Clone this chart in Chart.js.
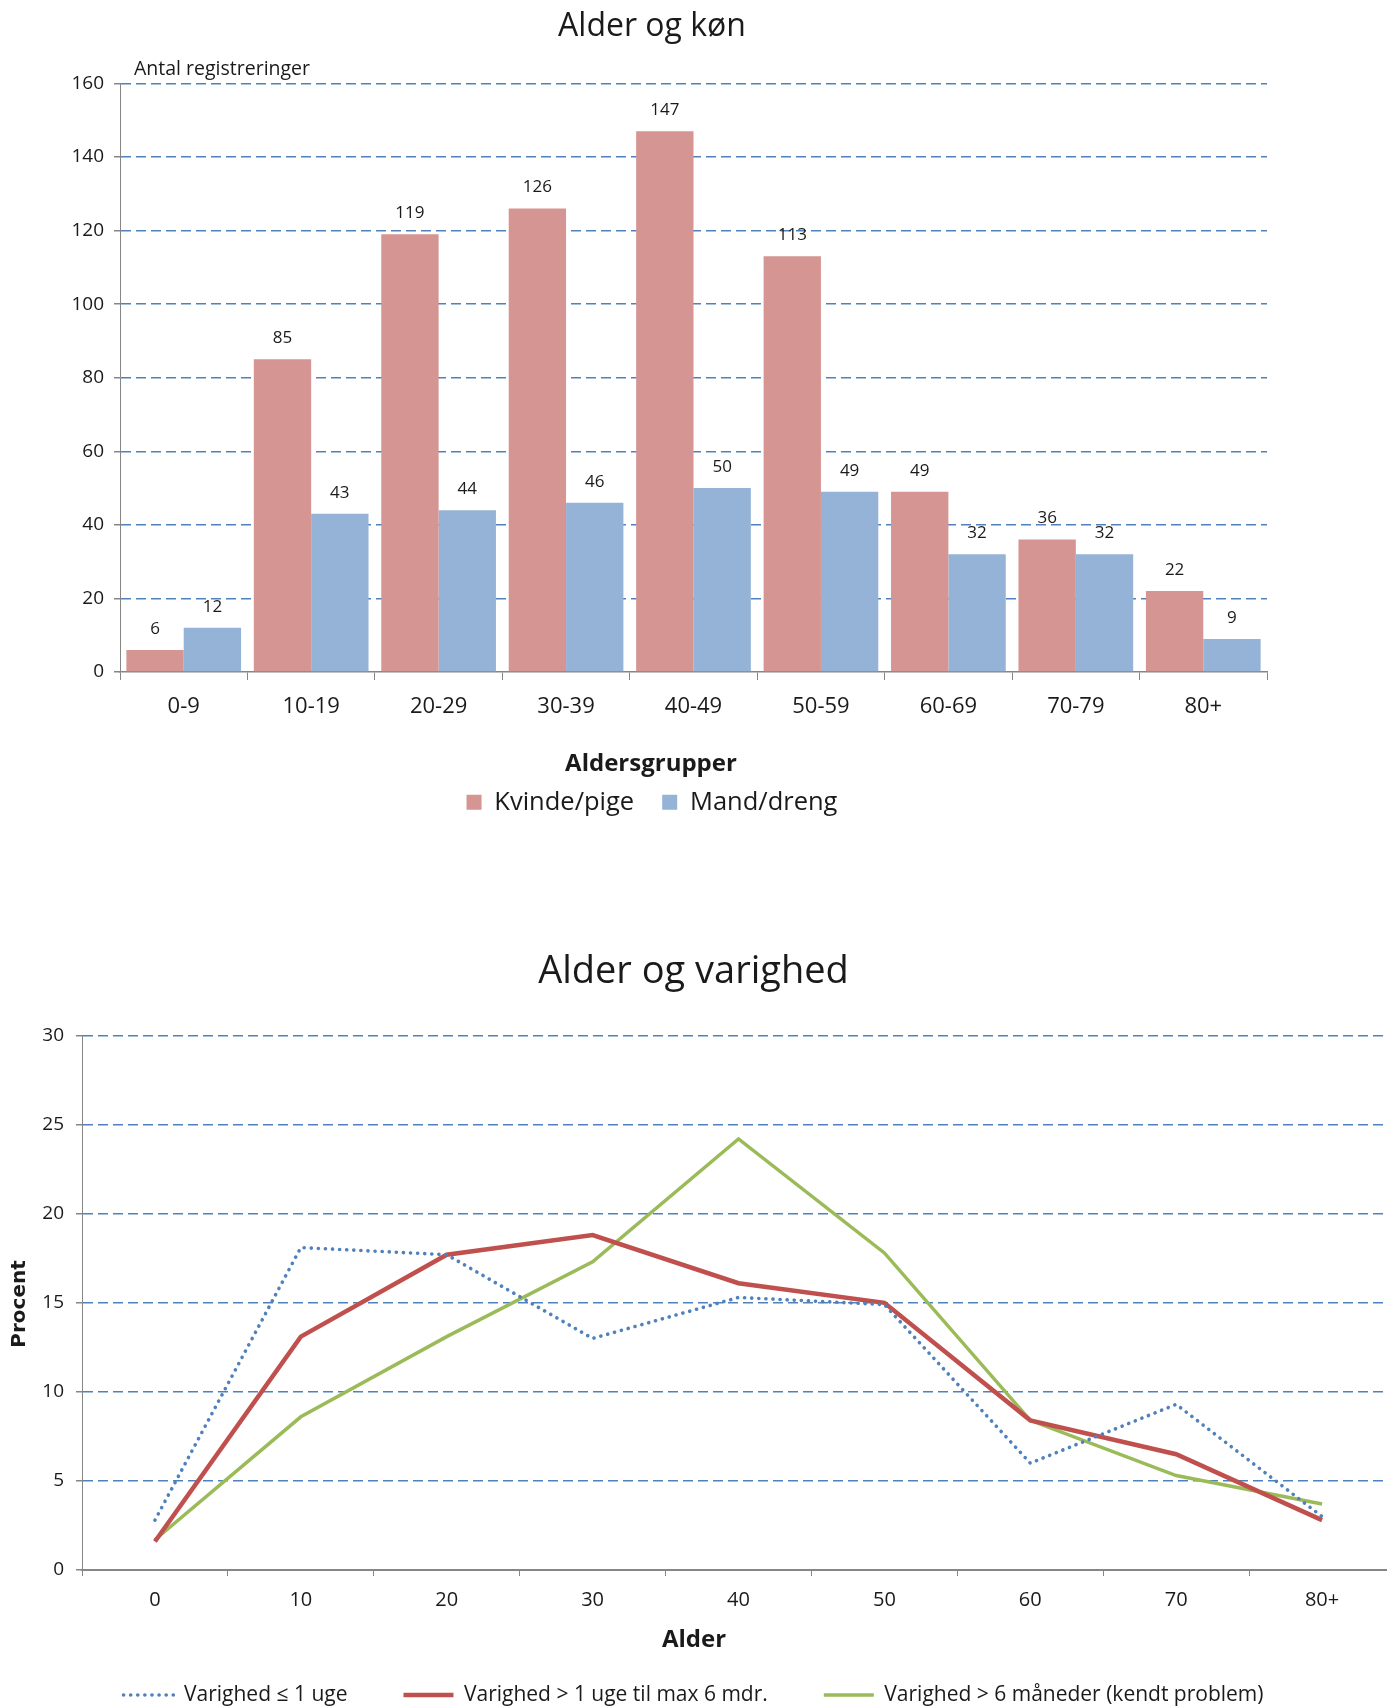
<!DOCTYPE html>
<html>
<head>
<meta charset="utf-8">
<script src="https://cdn.jsdelivr.net/npm/chart.js@4.4.1/dist/chart.umd.min.js"></script>
<style>
  html, body { margin: 0; padding: 0; background: #fff; overflow: hidden; }
  #c1 { position: absolute; left: 0; top: 0; }
  #c2 { position: absolute; left: -8px; top: 900px; }
</style>
</head>
<body>
<canvas id="c1" width="1304" height="830"></canvas>
<canvas id="c2" width="1403" height="830"></canvas>
<script>
// data - chart 1
var ageGroups = ['0-9', '10-19', '20-29', '30-39', '40-49', '50-59', '60-69', '70-79', '80+'];
var kvinde = [6, 85, 119, 126, 147, 113, 49, 36, 22];
var mand = [12, 43, 44, 46, 50, 49, 32, 32, 9];

// data - chart 2 (procent)
var ageTicks = ['0', '10', '20', '30', '40', '50', '60', '70', '80+'];
var varighedKort = [2.8, 18.1, 17.7, 13.0, 15.3, 14.9, 6.0, 9.3, 3.0];
var varighedMellem = [1.6, 13.1, 17.7, 18.8, 16.1, 15.0, 8.4, 6.5, 2.8];
var varighedLang = [1.7, 8.6, 13.1, 17.3, 24.2, 17.8, 8.4, 5.3, 3.7];

var textColor = '#1a1a1a';
var gridBlue = '#4F81BD';
var axisGray = '#868686';
Chart.defaults.font.family = "'Open Sans', sans-serif";
Chart.defaults.color = textColor;

// free text (axis titles etc.)
var extraText = {
    id: 'extraText',
    afterDraw: function (chart, args, opts) {
        var ctx = chart.ctx;
        (opts.items || []).forEach(function (t) {
            ctx.save();
            ctx.font = t.font;
            ctx.fillStyle = textColor;
            ctx.textAlign = t.align || 'center';
            ctx.textBaseline = 'middle';
            ctx.translate(t.x, t.y);
            if (t.rotate) ctx.rotate(t.rotate);
            ctx.fillText(t.text, 0, 0);
            ctx.restore();
        });
    }
};

// value labels above the bars
var barValues = {
    id: 'barValues',
    afterDatasetsDraw: function (chart) {
        var ctx = chart.ctx;
        ctx.save();
        ctx.font = "17px 'Open Sans'";
        ctx.fillStyle = textColor;
        ctx.textAlign = 'center';
        ctx.textBaseline = 'middle';
        chart.data.datasets.forEach(function (ds, i) {
            chart.getDatasetMeta(i).data.forEach(function (bar, j) {
                ctx.fillText(ds.data[j], bar.x, bar.y - 21);
            });
        });
        ctx.restore();
    }
};

var gridColor = function (c) {
    return c.tick && c.tick.value === 0 ? 'rgba(0,0,0,0)' : gridBlue;
};

new Chart(document.getElementById('c1').getContext('2d'), {
    type: 'bar',
    data: {
        labels: ageGroups,
        datasets: [
            {
                label: 'Kvinde/pige',
                backgroundColor: '#D59592',
                data: kvinde
            },
            {
                label: 'Mand/dreng',
                backgroundColor: '#95B3D7',
                data: mand
            }
        ]
    },
    options: {
        responsive: false,
        animation: false,
        layout: { padding: { left: 37, right: 37, top: 0, bottom: 5 } },
        datasets: { bar: { barPercentage: 1, categoryPercentage: 0.9 } },
        scales: {
            x: {
                afterFit: function (s) { s.height = 89.5; },
                grid: { drawOnChartArea: false, color: axisGray, tickLength: 8 },
                border: { color: axisGray, width: 1.5 },
                ticks: { font: { size: 22 }, padding: 14 }
            },
            y: {
                min: 0,
                max: 160,
                afterFit: function (s) { s.width = 83; },
                ticks: { stepSize: 20, font: { size: 19 }, padding: 10 },
                grid: {
                    color: gridColor,
                    lineWidth: 1.5,
                    tickColor: axisGray,
                    tickLength: 6,
                    tickBorderDash: []
                },
                border: { color: axisGray, width: 1, dash: [10, 5] }
            }
        },
        plugins: {
            title: {
                display: true,
                text: 'Alder og køn',
                font: { size: 32, weight: 'normal' },
                color: textColor,
                padding: { top: 8, bottom: 37 }
            },
            legend: {
                position: 'bottom',
                labels: { font: { size: 25.5 }, boxWidth: 15, boxHeight: 15, padding: 28 }
            },
            tooltip: { enabled: false },
            extraText: {
                items: [
                    { text: 'Antal registreringer', x: 134, y: 69, align: 'left', font: "19.5px 'Open Sans'" },
                    { text: 'Aldersgrupper', x: 651, y: 764, font: "bold 24px 'Open Sans'" }
                ]
            }
        }
    },
    plugins: [extraText, barValues]
});

new Chart(document.getElementById('c2').getContext('2d'), {
    type: 'line',
    data: {
        labels: ageTicks,
        datasets: [
            {
                label: 'Varighed ≤ 1 uge',
                data: varighedKort,
                borderColor: '#4F81BD',
                backgroundColor: '#4F81BD',
                borderWidth: 3.6,
                borderDash: [0.1, 7],
                borderCapStyle: 'round',
                pointRadius: 0,
                tension: 0
            },
            {
                label: 'Varighed > 1 uge til max 6 mdr.',
                data: varighedMellem,
                borderColor: '#C0504D',
                backgroundColor: '#C0504D',
                borderWidth: 4.5,
                pointRadius: 0,
                tension: 0
            },
            {
                label: 'Varighed > 6 måneder (kendt problem)',
                data: varighedLang,
                borderColor: '#9BBB59',
                backgroundColor: '#9BBB59',
                borderWidth: 3.5,
                pointRadius: 0,
                tension: 0
            }
        ]
    },
    options: {
        responsive: false,
        animation: false,
        layout: { padding: { left: 0, right: 0, top: 0, bottom: 14.5 } },
        scales: {
            x: {
                offset: true,
                afterFit: function (s) { s.height = 58.5; },
                grid: { offset: true, drawOnChartArea: false, color: axisGray, tickLength: 6 },
                border: { color: axisGray, width: 2 },
                ticks: { font: { size: 20 }, padding: 12 }
            },
            y: {
                min: 0,
                max: 30,
                afterFit: function (s) { s.width = 90; },
                ticks: { stepSize: 5, font: { size: 19 }, padding: 12 },
                grid: {
                    color: gridColor,
                    lineWidth: 1.5,
                    tickColor: axisGray,
                    tickLength: 6,
                    tickBorderDash: []
                },
                border: { color: axisGray, width: 1, dash: [10, 5] }
            }
        },
        plugins: {
            title: {
                display: true,
                text: 'Alder og varighed',
                font: { size: 38, weight: 'normal' },
                color: textColor,
                padding: { top: 49, bottom: 41 }
            },
            legend: {
                position: 'bottom',
                labels: {
                    font: { size: 21 },
                    usePointStyle: true,
                    pointStyle: 'line',
                    pointStyleWidth: 50,
                    padding: 56,
                    generateLabels: function (chart) {
                        var items = Chart.defaults.plugins.legend.labels.generateLabels(chart);
                        items.forEach(function (it) {
                            var ds = chart.data.datasets[it.datasetIndex];
                            it.lineDash = ds.borderDash || [];
                            it.lineCap = ds.borderCapStyle || 'butt';
                            it.lineWidth = ds.borderWidth;
                            it.strokeStyle = ds.borderColor;
                            it.pointStyle = 'line';
                        });
                        return items;
                    }
                }
            },
            tooltip: { enabled: false },
            extraText: {
                items: [
                    { text: 'Procent', x: 28, y: 404, rotate: -Math.PI / 2, font: "bold 20px 'DejaVu Sans'" },
                    { text: 'Alder', x: 702, y: 740, font: "bold 24px 'Open Sans'" }
                ]
            }
        }
    },
    plugins: [extraText]
});
</script>
</body>
</html>
